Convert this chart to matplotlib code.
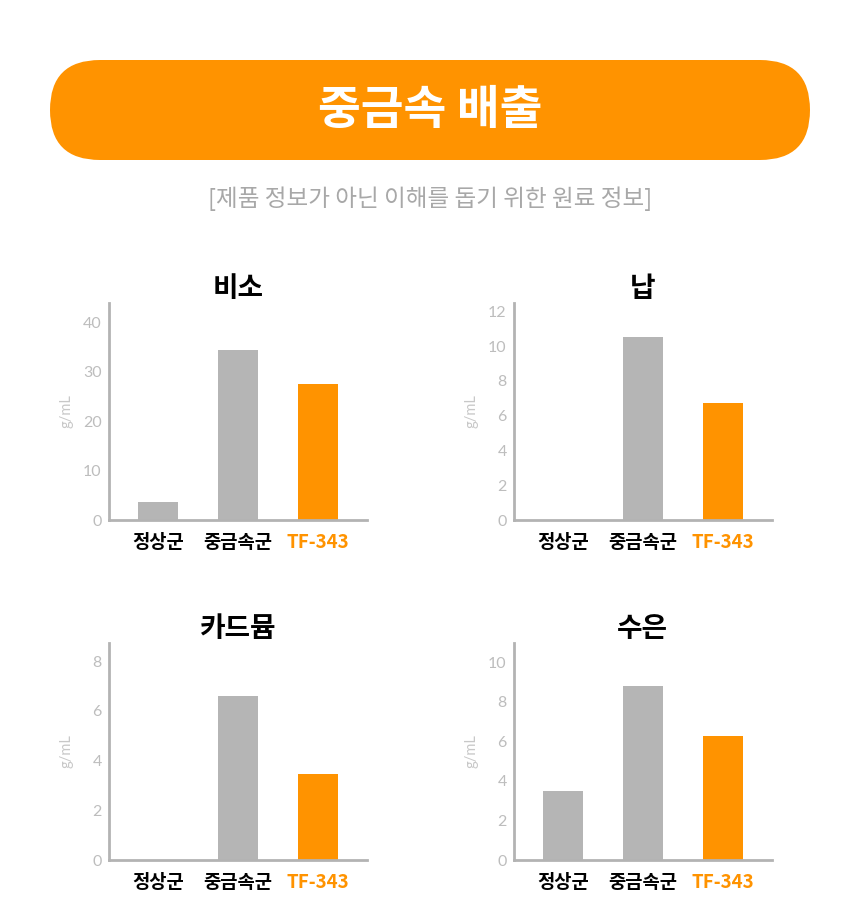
import matplotlib.pyplot as plt
from matplotlib.patches import FancyBboxPatch

plt.rcParams['font.family'] = ['Noto Sans CJK KR', 'DejaVu Sans']

groups = ['정상군', '중금속군', 'TF-343']
titles = ['비소', '납', '카드뮴', '수은']
arsenic = [3.7, 34.5, 27.5]
lead = [0, 10.5, 6.75]
cadmium = [0, 6.6, 3.45]
mercury = [3.5, 8.8, 6.3]
values = [arsenic, lead, cadmium, mercury]
ymax = [44, 12.5, 8.75, 11]
ystep = [10, 2, 2, 2]

gray = '#b5b5b5'
orange = '#ff9300'
axis_gray = '#b3b3b3'
tick_gray = '#bdbdbd'

W, H = 860, 910
fig = plt.figure(figsize=(W / 100, H / 100), dpi=100)

# background layer in pixel coordinates
bg = fig.add_axes([0, 0, 1, 1])
bg.set_xlim(0, W)
bg.set_ylim(H, 0)
bg.axis('off')
banner = FancyBboxPatch((50, 60), 760, 100,
                        boxstyle='round,pad=0,rounding_size=50',
                        fc=orange, ec='none')
bg.add_patch(banner)
bg.text(430, 110, '중금속 배출', color='white', fontsize=33.5,
        fontweight='bold', ha='center', va='center')
bg.text(430, 199, '[제품 정보가 아닌 이해를 돕기 위한 원료 정보]',
        color='#a8a8a8', fontsize=17, fontweight='light',
        ha='center', va='center')

# panel boxes (left, top) in pixels
lefts = [108.7, 513.7, 108.7, 513.7]
tops = [302.7, 302.7, 642.7, 642.7]
pw, ph = 258.3, 217.3

for i in range(4):
    ax = fig.add_axes([lefts[i] / W, (H - tops[i] - ph) / H, pw / W, ph / H])
    x = range(len(groups))
    ax.bar(x, values[i], width=0.5, color=[gray, gray, orange])
    ax.set_xlim(-0.6125, 2.616)
    ax.set_ylim(0, ymax[i])
    top_tick = int(ymax[i] // ystep[i]) * ystep[i]
    ax.set_yticks(range(0, top_tick + 1, ystep[i]))
    for s in ['top', 'right']:
        ax.spines[s].set_visible(False)
    for s in ['left', 'bottom']:
        ax.spines[s].set_color(axis_gray)
        ax.spines[s].set_linewidth(2)
    ax.tick_params(axis='y', length=0, pad=5, labelsize=11.5, labelcolor=tick_gray)
    for t in ax.get_yticklabels():
        t.set_family(['Lato', 'DejaVu Sans'])
    ax.tick_params(axis='x', length=0, pad=9)
    ax.set_xticks(list(x))
    ax.set_xticklabels(groups, fontsize=13.5, fontweight='bold')
    ax.get_xticklabels()[2].set_color(orange)
    ax.set_ylabel('g/mL', color='#c8c8c8', fontsize=10.5,
                  family=['Lato', 'DejaVu Sans'])
    ax.yaxis.set_label_coords(-0.138, 0.5)
    ax.set_title(titles[i], fontsize=20, fontweight='bold', pad=4)

plt.savefig('out.png', dpi=100)
